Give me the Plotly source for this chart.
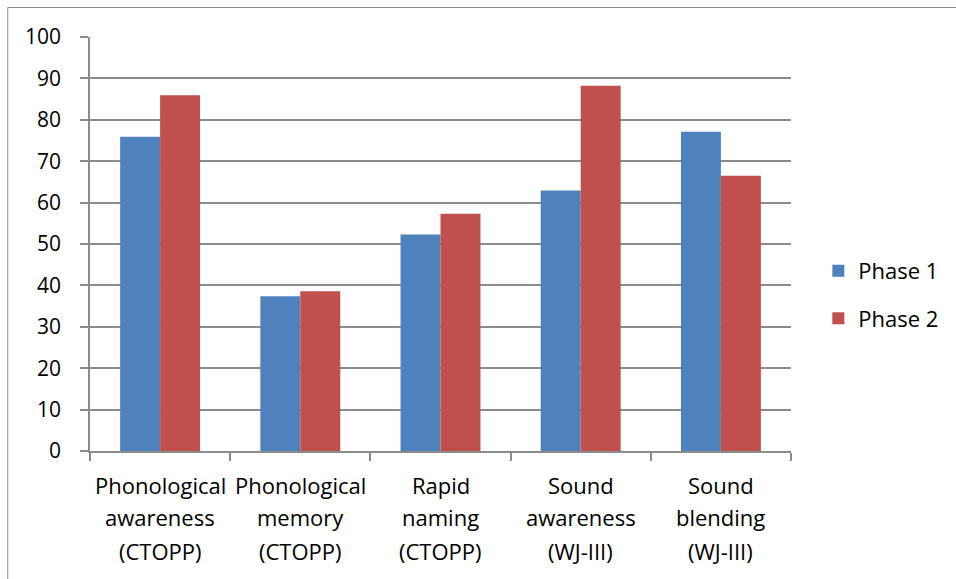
import plotly.graph_objects as go

# Test categories (label lines) and scores per phase
categories = [
    "Phonological awareness (CTOPP)",
    "Phonological memory (CTOPP)",
    "Rapid naming (CTOPP)",
    "Sound awareness (WJ-III)",
    "Sound blending (WJ-III)",
]
label_lines = [
    ["Phonological", "awareness", "(CTOPP)"],
    ["Phonological", "memory", "(CTOPP)"],
    ["Rapid", "naming", "(CTOPP)"],
    ["Sound", "awareness", "(WJ-III)"],
    ["Sound", "blending", "(WJ-III)"],
]
phase1 = [75.9, 37.4, 52.3, 62.9, 77.1]
phase2 = [85.9, 38.6, 57.3, 88.2, 66.5]
series_names = ["Phase 1", "Phase 2"]
series_colors = ["#4F81BD", "#C0504D"]

FONT = "Open Sans"
GRID = "#8c8c8c"

fig = go.Figure()
for name, vals, color in zip(series_names, [phase1, phase2], series_colors):
    fig.add_trace(go.Bar(
        x=categories, y=vals, name=name, legendgroup=name,
        marker=dict(color=color, line=dict(width=0)),
    ))

# Multi-line category labels, one annotation per line for wider spacing
line_y = [-0.081, -0.159, -0.241]
for cat, lines in zip(categories, label_lines):
    for txt, yy in zip(lines, line_y):
        fig.add_annotation(
            x=cat, y=yy, xref="x", yref="paper", text=txt, showarrow=False,
            xanchor="center", yanchor="middle",
            font=dict(family=FONT, size=22, color="#000000"),
        )

# Outer chart frame
fig.add_shape(
    type="rect", xref="paper", yref="paper",
    x0=(7.5 - 90) / 703, x1=(990 - 90) / 703,
    y0=(451 - 600) / 414, y1=(451 - 7.5) / 414,
    line=dict(color="#8c8c8c", width=1), fillcolor="rgba(0,0,0,0)", layer="below",
)

fig.update_layout(
    width=956, height=579, autosize=False,
    margin=dict(l=90, r=163, t=37, b=128),
    paper_bgcolor="white", plot_bgcolor="white",
    barmode="group", bargap=0.43, bargroupgap=0,
    font=dict(family=FONT, size=22, color="#000000"),
    showlegend=True,
    legend=dict(
        x=1.039, y=0.377, xanchor="left", yanchor="middle",
        traceorder="grouped", tracegroupgap=16,
        font=dict(family=FONT, size=22, color="#000000"),
        bgcolor="rgba(0,0,0,0)",
    ),
    xaxis=dict(
        type="category", showticklabels=False, tickson="boundaries",
        ticks="outside", ticklen=8, tickcolor=GRID, tickwidth=1.5,
        showline=True, linecolor=GRID, linewidth=1.5, showgrid=False,
        zeroline=False, fixedrange=True,
    ),
    yaxis=dict(
        range=[0, 100], dtick=10, tick0=0,
        ticks="outside", ticklen=8, tickcolor=GRID, tickwidth=1.5,
        ticklabelstandoff=15,
        showline=True, linecolor=GRID, linewidth=1.5,
        showgrid=True, gridcolor=GRID, gridwidth=1.5,
        zeroline=False, fixedrange=True,
        tickfont=dict(family=FONT, size=21, color="#000000"),
    ),
)

fig.write_html("out.html")
